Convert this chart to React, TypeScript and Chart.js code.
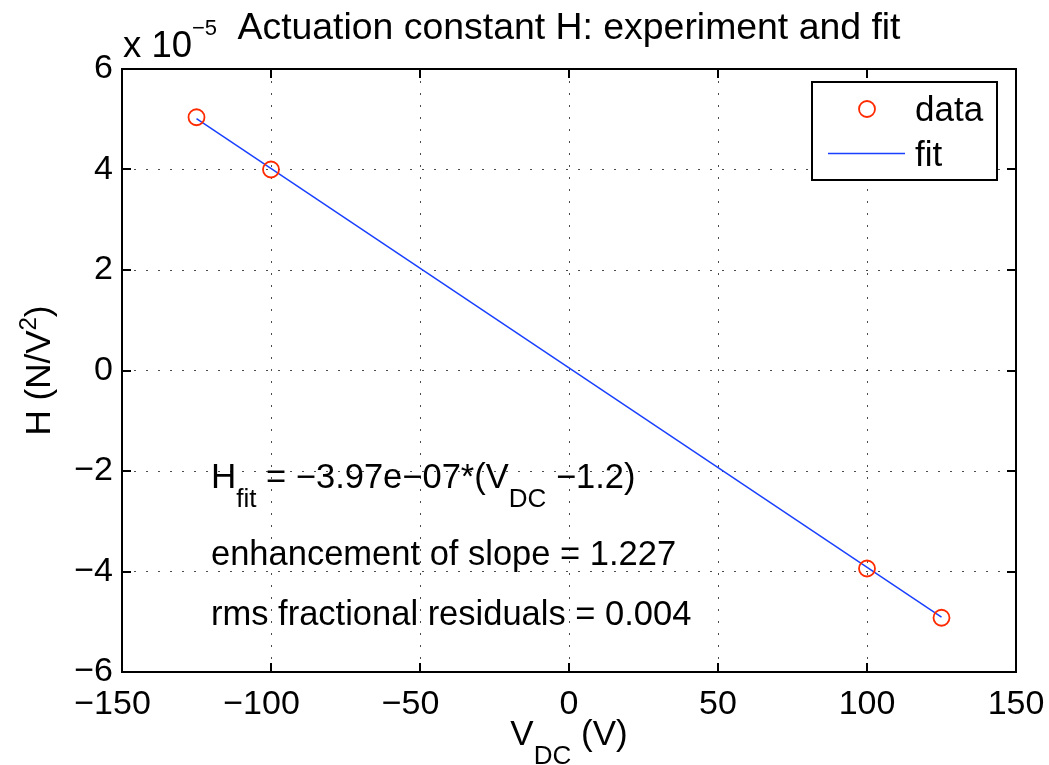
import React, { useEffect, useRef } from 'react';
import { Chart, registerables } from 'chart.js';

Chart.register(...registerables);

// Values in units of 1e-5 N/V^2 (axis multiplier shown as "x 10^-5")
const dataV = [-125, -100, 100, 125];
const dataH = [5.04, 4.0, -3.94, -4.92];
const fitV = [-125, 125];
const fitH = [5.01, -4.91];
const xRange = [-150, 150];
const yRange = [-6, 6];
const xStep = 50;
const yStep = 2;

const titleText = 'Actuation constant H: experiment and fit';
const legendLabels = ['data', 'fit'];
const annotLine2 = 'enhancement of slope = 1.227';
const annotLine3 = 'rms fractional residuals = 0.004';

const FONT = '"Liberation Sans", Arial, Helvetica, sans-serif';
const RED = '#ff2a00';
const BLUE = '#1a40ff';

type Run = { t: string; s: number; dy?: number };

function runsWidth(ctx: CanvasRenderingContext2D, runs: Run[]) {
  let w = 0;
  for (const r of runs) {
    ctx.font = `${r.s}px ${FONT}`;
    w += ctx.measureText(r.t).width;
  }
  return w;
}

function drawRuns(ctx: CanvasRenderingContext2D, x: number, y: number, runs: Run[]) {
  ctx.textAlign = 'left';
  ctx.textBaseline = 'alphabetic';
  let cx = x;
  for (const r of runs) {
    ctx.font = `${r.s}px ${FONT}`;
    ctx.fillText(r.t, cx, y + (r.dy || 0));
    cx += ctx.measureText(r.t).width;
  }
}

const overlay = {
  id: 'overlay',
  afterDraw(chart: any) {
    const { ctx, chartArea: a, scales } = chart;
    ctx.save();
    ctx.fillStyle = '#000';
    ctx.strokeStyle = '#000';
    ctx.lineWidth = 2;
    const TL = 9;
    const seg = (x1: number, y1: number, x2: number, y2: number) => {
      ctx.beginPath();
      ctx.moveTo(x1, y1);
      ctx.lineTo(x2, y2);
      ctx.stroke();
    };
    // inward tick marks on all sides
    scales.x.ticks.forEach((t: any) => {
      const px = Math.round(scales.x.getPixelForValue(t.value));
      seg(px, a.bottom, px, a.bottom - TL);
      seg(px, a.top, px, a.top + TL);
    });
    scales.y.ticks.forEach((t: any) => {
      const py = Math.round(scales.y.getPixelForValue(t.value));
      seg(a.left, py, a.left + TL, py);
      seg(a.right, py, a.right - TL, py);
    });
    // box
    ctx.strokeRect(a.left, a.top, a.right - a.left, a.bottom - a.top);

    // title
    ctx.font = `37.4px ${FONT}`;
    ctx.textAlign = 'center';
    ctx.textBaseline = 'alphabetic';
    ctx.fillText(titleText, (a.left + a.right) / 2, 39);

    // exponent label
    drawRuns(ctx, a.left + 1, 57, [
      { t: 'x 10', s: 36.5 },
      { t: '\u22125', s: 22, dy: -22 },
    ]);

    // y-axis label
    const yRuns: Run[] = [
      { t: 'H (N/V', s: 35 },
      { t: '2', s: 24, dy: -14 },
      { t: ')', s: 35 },
    ];
    ctx.save();
    ctx.translate(50, (a.top + a.bottom) / 2);
    ctx.rotate(-Math.PI / 2);
    drawRuns(ctx, -runsWidth(ctx, yRuns) / 2, 0, yRuns);
    ctx.restore();

    // x-axis label
    const xRuns: Run[] = [
      { t: 'V', s: 35 },
      { t: 'DC', s: 26, dy: 19 },
      { t: ' (V)', s: 35 },
    ];
    drawRuns(ctx, (a.left + a.right) / 2 - runsWidth(ctx, xRuns) / 2, 745, xRuns);

    // annotations
    drawRuns(ctx, 211, 488, [
      { t: 'H', s: 35 },
      { t: 'fit', s: 26, dy: 19 },
      { t: ' = \u22123.97e\u221207*(V', s: 34.5 },
      { t: 'DC', s: 26, dy: 19 },
      { t: ' \u22121.2)', s: 34.5 },
    ]);
    drawRuns(ctx, 211, 565, [{ t: annotLine2, s: 34.5 }]);
    drawRuns(ctx, 211, 625, [{ t: annotLine3, s: 34.5 }]);

    // legend
    ctx.fillStyle = '#fff';
    ctx.fillRect(812, 82, 185, 98);
    ctx.strokeStyle = '#000';
    ctx.lineWidth = 2;
    ctx.strokeRect(812, 82, 185, 98);
    ctx.strokeStyle = RED;
    ctx.lineWidth = 1.8;
    ctx.beginPath();
    ctx.arc(867, 109, 8, 0, Math.PI * 2);
    ctx.stroke();
    ctx.strokeStyle = BLUE;
    ctx.lineWidth = 1.5;
    seg(828, 153.5, 905, 153.5);
    ctx.fillStyle = '#000';
    drawRuns(ctx, 915, 121, [{ t: legendLabels[0], s: 35 }]);
    drawRuns(ctx, 915, 166, [{ t: legendLabels[1], s: 35 }]);

    ctx.restore();
  },
};

export default function App() {
  const ref = useRef<HTMLCanvasElement | null>(null);

  useEffect(() => {
    if (!ref.current) return;
    const minusY = (v: any) => String(v).replace('-', '\u2212');
    // negative x labels: digits centred on the tick, minus hanging to the left
    const minusX = (v: any) => (Number(v) < 0 ? String(v).replace('-', '\u2212') + '\u00a0\u00a0' : String(v));
    const chart = new Chart(ref.current, {
      type: 'scatter',
      data: {
        datasets: [
          {
            label: legendLabels[0],
            data: dataV.map((x, i) => ({ x, y: dataH[i] })),
            showLine: false,
            pointStyle: 'circle',
            pointRadius: 8,
            pointHoverRadius: 8,
            pointBorderColor: RED,
            pointBackgroundColor: 'rgba(0,0,0,0)',
            pointBorderWidth: 1.8,
          },
          {
            label: legendLabels[1],
            data: fitV.map((x, i) => ({ x, y: fitH[i] })),
            showLine: true,
            borderColor: BLUE,
            borderWidth: 1.5,
            pointRadius: 0,
            pointHoverRadius: 0,
          },
        ],
      },
      options: {
        responsive: false,
        animation: false,
        events: [],
        layout: { padding: { top: 69, left: 0, right: 33, bottom: 0 } },
        plugins: {
          legend: { display: false },
          title: { display: false },
          tooltip: { enabled: false },
        },
        scales: {
          x: {
            type: 'linear',
            min: xRange[0],
            max: xRange[1],
            afterFit: (s: any) => {
              s.height = 93;
              s.paddingLeft = 0;
              s.paddingRight = 0;
            },
            ticks: {
              stepSize: xStep,
              color: '#000',
              font: { family: FONT, size: 34 },
              padding: 12,
              maxRotation: 0,
              callback: minusX,
            },
            grid: {
              color: 'rgba(0,0,0,0.7)',
              lineWidth: 1,
              drawTicks: false,
            },
            border: { display: false, dash: [2, 10] },
          },
          y: {
            type: 'linear',
            min: yRange[0],
            max: yRange[1],
            afterFit: (s: any) => {
              s.width = 122;
              s.paddingTop = 0;
              s.paddingBottom = 0;
            },
            ticks: {
              stepSize: yStep,
              color: '#000',
              font: { family: FONT, size: 34 },
              padding: 9,
              callback: minusY,
            },
            grid: {
              color: 'rgba(0,0,0,0.7)',
              lineWidth: 1,
              drawTicks: false,
            },
            border: { display: false, dash: [2, 10] },
          },
        },
      } as any,
      plugins: [overlay],
    });
    return () => chart.destroy();
  }, []);

  return (
    <div style={{ position: 'absolute', left: 0, top: 0, width: 1049, height: 765, background: '#fff' }}>
      <canvas ref={ref} width={1049} height={765} style={{ display: 'block' }} />
    </div>
  );
}
